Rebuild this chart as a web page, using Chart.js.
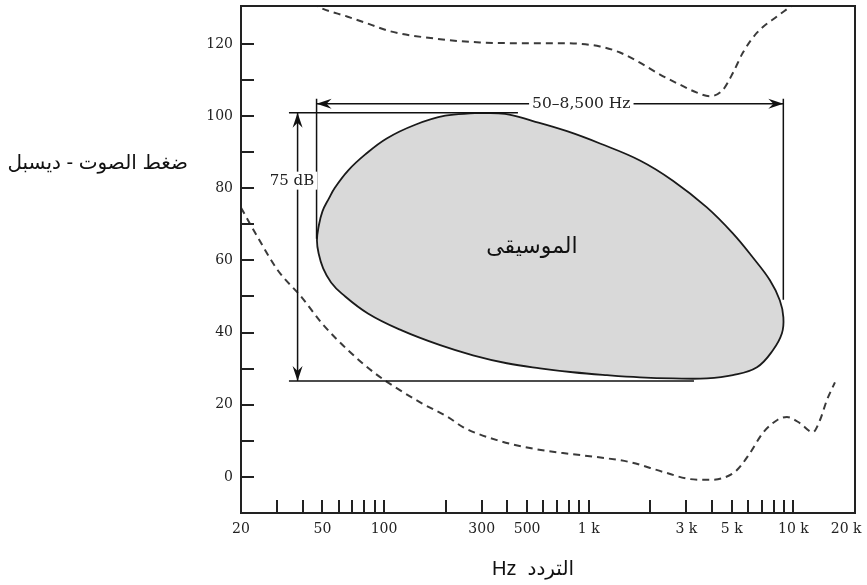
<!DOCTYPE html>
<html lang="ar">
<head>
  <meta charset="UTF-8">
  <title>الموسيقى - ضغط الصوت والتردد</title>
  <style>
    body { margin: 0; background: #fff; }
    canvas { display: block; }
  </style>
</head>
<body>
  <canvas id="musicChart" width="867" height="585"></canvas>

  <script src="https://cdn.jsdelivr.net/npm/chart.js"></script>
  <script>
    // axis ticks
    const freqTicks = [20, 30, 40, 50, 60, 70, 80, 90, 100, 200, 300, 400, 500, 600, 700, 800, 900,
      1000, 2000, 3000, 4000, 5000, 6000, 7000, 8000, 9000, 10000, 20000];
    const freqLabelValues = [20, 50, 100, 300, 500, 1000, 3000, 5000, 10000, 20000];
    const freqLabels = ['20', '50', '100', '300', '500', '1 k', '3 k', '5 k', '10 k', '20 k    '];
    const dbTicks = [0, 10, 20, 30, 40, 50, 60, 70, 80, 90, 100, 110, 120];
    const dbLabelValues = [0, 20, 40, 60, 80, 100, 120];

    // upper dashed curve
    const upperFreq = [44.5, 48.6, 65.9, 85.4, 107, 188, 294, 462, 724, 1135, 1422, 1779, 2230, 2790,
      3380, 3910, 4530, 5070, 5670, 6640, 8310, 9660, 10400];
    const upperDb = [131.5, 130.1, 127.6, 125.4, 123.5, 121.3, 120.4, 120.2, 120.2, 119.3, 117.6, 114.8,
      111.5, 108.7, 106.5, 105.5, 107.3, 112.0, 117.6, 123.1, 127.6, 130.3, 131.7];

    // lower dashed curve
    const lowerFreq = [20, 24.2, 30.3, 39.7, 49.8, 66.7, 90.3, 113, 153, 205, 243, 356, 516, 748, 1096,
      1590, 2305, 3121, 3781, 4529, 5300, 6134, 7098, 8312, 9300, 10760, 12450, 13480, 14580, 15960];
    const lowerDb = [74.6, 66.3, 57.2, 49.7, 42.5, 35.1, 28.7, 24.9, 20.4, 16.6, 13.8, 10.2, 8.0, 6.6, 5.5,
      4.1, 1.4, -0.6, -0.8, -0.3, 1.9, 6.6, 12.2, 15.7, 16.6, 14.9, 12.4, 15.7, 21.3, 26.2];

    // music area outline (closed, starts and ends at the top)
    const musicFreq = [278, 390, 534, 783, 1135, 1779, 2578, 3778, 5060, 6340, 7680, 8590, 8935, 8790,
      7940, 6640, 5060, 3778, 2578, 1779, 1228, 837, 578, 398, 272, 188, 122, 83.4, 62.2, 55.1, 50.4,
      47.9, 47.0, 47.9, 50.0, 53.8, 57.6, 66.7, 80.7, 103, 142, 199, 278];
    const musicDb = [100.8, 100.6, 98.6, 95.8, 92.4, 87.7, 82.1, 74.7, 67.5, 60.8, 54.5, 48.9, 44.2, 39.8,
      35.1, 30.4, 28.2, 27.3, 27.3, 27.6, 28.2, 29.0, 30.1, 31.5, 33.7, 36.5, 40.6, 45.3, 50.8, 53.9, 57.8,
      61.9, 65.5, 69.4, 73.6, 77.2, 80.2, 84.9, 89.3, 93.8, 97.6, 100.1, 100.8];

    // 50–8,500 Hz span and 75 dB span
    const spanFreq = [46.8, 8930];
    const spanDb = 103.4;
    const guideTopDb = 104.8;
    const guideBottomDb = [66, 49.1];
    const levelDb = [100.9, 26.6];
    const levelFreq = 37.8;
    const levelStartFreq = 34.3;
    const levelEndFreq = [451, 3268];

    // text anchors (data units)
    const spanLabelAt = [920, 103.4];
    const levelLabelAt = [35.5, 82.1];
    const musicLabelAt = [528, 63.8];

    const pts = (xs, ys) => xs.map((x, i) => ({ x: x, y: ys[i] }));
    const seg = (x0, y0, x1, y1) => [{ x: x0, y: y0 }, { x: x1, y: y1 }];

    const black = '#111';
    const lineSet = (data) => ({
      data: data, borderColor: black, borderWidth: 1.5, pointRadius: 0, fill: false, tension: 0
    });

    function arrowHead(ctx, x, y, ang) {
      ctx.save();
      ctx.translate(x, y);
      ctx.rotate(ang);
      ctx.beginPath();
      ctx.moveTo(0, 0);
      ctx.lineTo(-15, -5);
      ctx.lineTo(-10, 0);
      ctx.lineTo(-15, 5);
      ctx.closePath();
      ctx.fillStyle = black;
      ctx.fill();
      ctx.restore();
    }

    function boxedText(ctx, text, x, y, font) {
      ctx.font = font;
      const w = ctx.measureText(text).width;
      ctx.fillStyle = '#fff';
      ctx.fillRect(x - w / 2 - 3, y - 9, w + 6, 18);
      ctx.fillStyle = '#222';
      ctx.textAlign = 'center';
      ctx.textBaseline = 'middle';
      ctx.fillText(text, x, y);
    }

    const decorPlugin = {
      id: 'decor',
      afterDatasetsDraw(chart) {
        const ctx = chart.ctx;
        const xs = chart.scales.x, ys = chart.scales.y;
        const area = chart.chartArea;
        ctx.save();

        // arrowheads
        arrowHead(ctx, xs.getPixelForValue(spanFreq[0]), ys.getPixelForValue(spanDb), Math.PI);
        arrowHead(ctx, xs.getPixelForValue(spanFreq[1]), ys.getPixelForValue(spanDb), 0);
        arrowHead(ctx, xs.getPixelForValue(levelFreq), ys.getPixelForValue(levelDb[0]), -Math.PI / 2);
        arrowHead(ctx, xs.getPixelForValue(levelFreq), ys.getPixelForValue(levelDb[1]), Math.PI / 2);

        // annotation texts
        boxedText(ctx, '50–8,500 Hz', xs.getPixelForValue(spanLabelAt[0]), ys.getPixelForValue(spanLabelAt[1]),
          '15.5px "DejaVu Serif"');
        boxedText(ctx, '75 dB', xs.getPixelForValue(levelLabelAt[0]), ys.getPixelForValue(levelLabelAt[1]),
          '15px "DejaVu Serif"');

        ctx.font = '22px Arial, "DejaVu Sans", sans-serif';
        ctx.fillStyle = '#111';
        ctx.textAlign = 'center';
        ctx.textBaseline = 'middle';
        ctx.fillText('الموسيقى', xs.getPixelForValue(musicLabelAt[0]), ys.getPixelForValue(musicLabelAt[1]));

        // frame
        ctx.strokeStyle = '#222';
        ctx.lineWidth = 2;
        ctx.strokeRect(area.left, area.top, area.right - area.left, area.bottom - area.top);

        // inward tick marks
        ctx.lineWidth = 2;
        ctx.beginPath();
        freqTicks.forEach(v => {
          if (v === 20 || v === 20000) return;
          const px = Math.round(xs.getPixelForValue(v));
          ctx.moveTo(px, area.bottom);
          ctx.lineTo(px, area.bottom - 13);
        });
        dbTicks.forEach(v => {
          const py = Math.round(ys.getPixelForValue(v));
          ctx.moveTo(area.left, py);
          ctx.lineTo(area.left + 13, py);
        });
        ctx.stroke();
        ctx.restore();
      },
      afterDraw(chart) {
        const ctx = chart.ctx;
        ctx.save();
        ctx.fillStyle = '#111';
        ctx.textBaseline = 'middle';
        ctx.font = '20px Arial, "DejaVu Sans", sans-serif';
        ctx.textAlign = 'right';
        ctx.fillText('ضغط الصوت - ديسبل', 188, 163);
        ctx.textAlign = 'center';
        ctx.fillText('Hz  التردد', 533, 569);
        ctx.restore();
      }
    };

    const ctx = document.getElementById('musicChart').getContext('2d');
    const chart = new Chart(ctx, {
      type: 'line',
      data: {
        datasets: [
          lineSet(seg(spanFreq[0], spanDb, spanFreq[1], spanDb)),
          lineSet(seg(spanFreq[0], guideTopDb, spanFreq[0], guideBottomDb[0])),
          lineSet(seg(spanFreq[1], guideTopDb, spanFreq[1], guideBottomDb[1])),
          lineSet(seg(levelStartFreq, levelDb[0], levelEndFreq[0], levelDb[0])),
          lineSet(seg(levelStartFreq, levelDb[1], levelEndFreq[1], levelDb[1])),
          lineSet(seg(levelFreq, levelDb[0], levelFreq, levelDb[1])),
          {
            data: pts(upperFreq, upperDb),
            borderColor: '#3a3a3a', borderWidth: 2, borderDash: [7, 5],
            pointRadius: 0, fill: false, cubicInterpolationMode: 'monotone'
          },
          {
            data: pts(lowerFreq, lowerDb),
            borderColor: '#3a3a3a', borderWidth: 2, borderDash: [7, 5],
            pointRadius: 0, fill: false, cubicInterpolationMode: 'monotone'
          },
          {
            data: pts(musicFreq, musicDb),
            borderColor: '#1a1a1a', borderWidth: 1.8, backgroundColor: '#d9d9d9',
            pointRadius: 0, fill: 'shape', tension: 0.4
          }
        ]
      },
      options: {
        responsive: false,
        animation: false,
        events: [],
        layout: { padding: { top: 6, right: 12, bottom: 0, left: 0 } },
        plugins: { legend: { display: false }, tooltip: { enabled: false } },
        scales: {
          x: {
            type: 'logarithmic',
            min: 20,
            max: 20000,
            border: { display: false },
            grid: { display: false, drawTicks: false },
            afterBuildTicks: (scale) => { scale.ticks = freqTicks.map(v => ({ value: v })); },
            afterFit: (scale) => { scale.height = 72; scale.paddingLeft = 0; scale.paddingRight = 0; },
            ticks: {
              autoSkip: false,
              maxRotation: 0,
              padding: 8,
              color: '#222',
              font: { family: 'DejaVu Serif', size: 14 },
              callback: (v) => {
                const i = freqLabelValues.indexOf(v);
                return i >= 0 ? freqLabels[i] : '';
              }
            }
          },
          y: {
            type: 'linear',
            min: -10,
            max: 130.5,
            border: { display: false },
            grid: { display: false, drawTicks: false },
            afterBuildTicks: (scale) => { scale.ticks = dbTicks.map(v => ({ value: v })); },
            afterFit: (scale) => { scale.width = 241; scale.paddingTop = 0; scale.paddingBottom = 0; },
            ticks: {
              autoSkip: false,
              padding: 8,
              color: '#222',
              font: { family: 'DejaVu Serif', size: 14 },
              callback: (v) => dbLabelValues.includes(v) ? String(v) : ''
            }
          }
        }
      },
      plugins: [decorPlugin]
    });
  </script>
</body>
</html>
